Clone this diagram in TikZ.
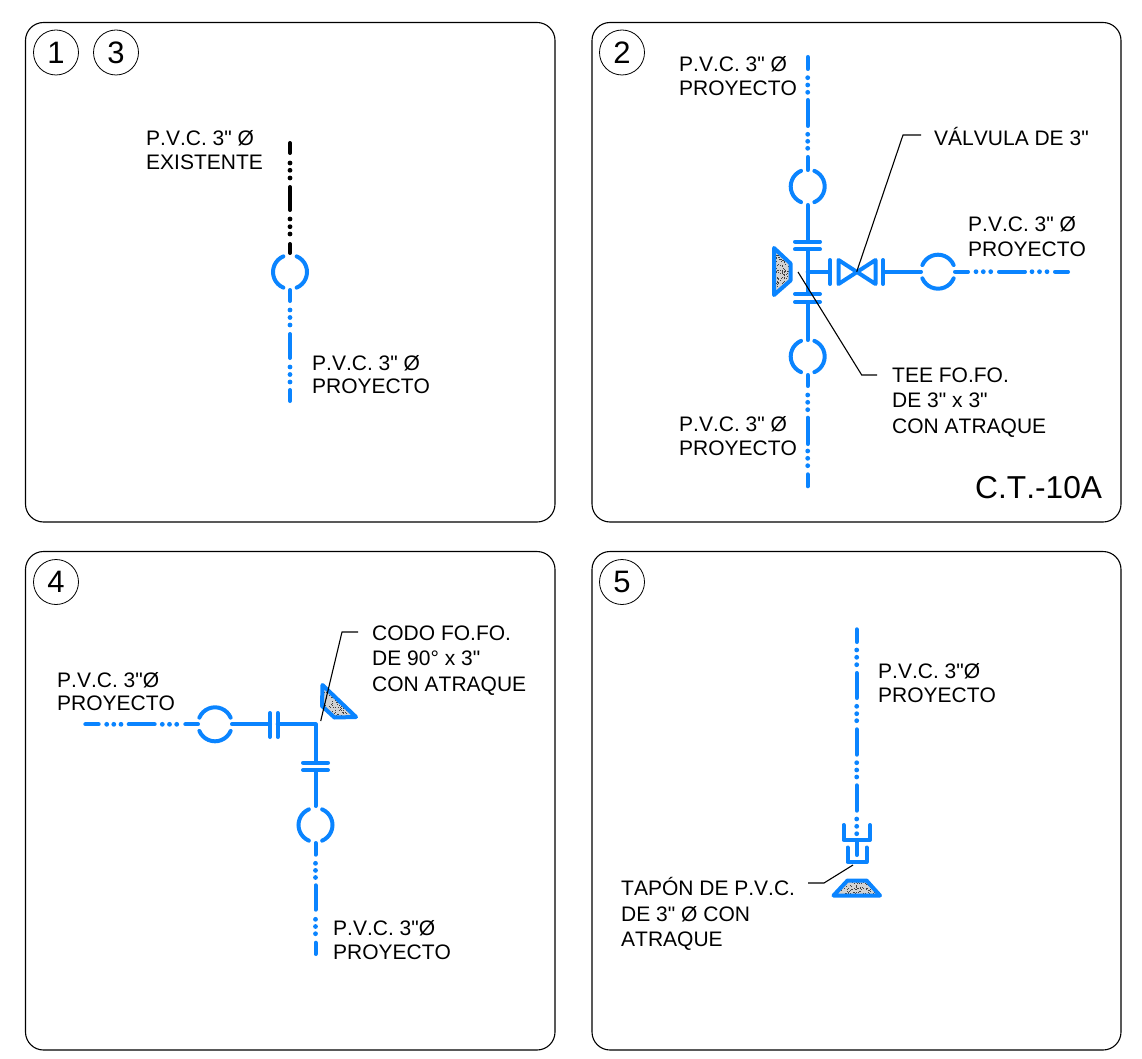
\documentclass[tikz,border=0pt]{standalone}
\usepackage{fontspec}
\setmainfont{Liberation Sans}[Ligatures=TeXOff,Kerning=Off]
\definecolor{pipeblue}{HTML}{0A84FF}
\newcommand{\vpipe}[4][pipeblue]{%
  \foreach \sa/\sb in {#3} {\draw[pipe,draw=#1] (#2,\sa) -- (#2,\sb);}
  \foreach \dy in {#4} {\fill[#1] (#2,\dy) circle[radius=2.4];}}
\newcommand{\hpipe}[3]{%
  \foreach \sa/\sb in {#2} {\draw[pipe] (\sa,#1) -- (\sb,#1);}
  \foreach \dx in {#3} {\fill[pipeblue] (\dx,#1) circle[radius=2.4];}}
\newcommand{\jointV}[2]{%
  \draw[pipe] (#1,#2) ++(-67:17) arc[start angle=-67,end angle=67,radius=17];
  \draw[pipe] (#1,#2) ++(113:17) arc[start angle=113,end angle=247,radius=17];}
\newcommand{\jointH}[2]{%
  \draw[pipe] (#1,#2) ++(23:17) arc[start angle=23,end angle=157,radius=17];
  \draw[pipe] (#1,#2) ++(203:17) arc[start angle=203,end angle=337,radius=17];}
\newcommand{\thrust}[6]{% polygon, seed, bbox x, y, w, h
  \begin{scope}
    \clip #1;
    \fill[gray!35] (#3,#4) rectangle ++(#5,#6);
    \pgfmathsetseed{#2}
    \foreach \n in {1,...,260} {
      \pgfmathsetmacro{\px}{#3+rnd*#5}
      \pgfmathsetmacro{\py}{#4+rnd*#6}
      \fill[black!75] (\px,\py) rectangle ++(1,1);
    }
  \end{scope}
  \draw[pipe,line join=round] #1;}
\begin{document}
\begin{tikzpicture}[x=1pt,y=-1pt,
  pipe/.style={line width=4,draw=pipeblue,line cap=round},
  panel/.style={line width=1.1,draw=black,rounded corners=18},
  numcircle/.style={circle,draw=black,line width=0.8,minimum size=45,inner sep=0,font=\fontsize{31}{31}\selectfont},
  lbl/.style={anchor=base west,inner sep=0,align=left,font=\fontsize{21}{24.5}\selectfont},
  big/.style={anchor=base west,inner sep=0,font=\fontsize{31.7}{34}\selectfont},
  leader/.style={line width=1.1,draw=black}]
\useasboundingbox (0,0) rectangle (1142,1059);
% panels
\draw[panel] (25.5,22.5) rectangle (555,522);
\draw[panel] (592,22.5) rectangle (1121,522);
\draw[panel] (25.5,551.5) rectangle (555,1050);
\draw[panel] (592,551.5) rectangle (1121,1050);
\node[numcircle] (n1) at (56,52.5) {1};
\node[numcircle] (n3) at (116,52.5) {3};
\node[numcircle] (n2) at (622,52.5) {2};
\node[numcircle] (n4) at (56,582) {4};
\node[numcircle] (n5) at (622,582) {5};

% panel 1 / 3
\vpipe[black]{290}{143/153,187/210,244/253}{163,170.3,178,219,226.7,234}
\jointV{290}{272}
\vpipe{290}{290/301,334/358,390/401}{310,317.5,325,367,374.5,382}
\node[lbl] (t1a) at (146,146) {P.V.C. 3" Ø};
\node[lbl] (t1b) at (146,170) {EXISTENTE};
\node[lbl] (t1c) at (312,370) {P.V.C. 3" Ø};
\node[lbl] (t1d) at (312,393) {PROYECTO};

% panel 2
\vpipe{807.7}{57/69,100/126,157/170}{77.7,85,92.3,134.3,141.3,148.3}
\jointV{807.7}{186.5}
\draw[pipe] (807.7,205) -- (807.7,241.7);
\draw[pipe] (795,241.7) -- (820,241.7);
\draw[pipe] (795,249.3) -- (820,249.3);
\draw[pipe] (807.7,249.3) -- (807.7,294);
\draw[pipe] (795,294) -- (820,294);
\draw[pipe] (795,302) -- (820,302);
\draw[pipe] (807.7,302) -- (807.7,340);
\jointV{807.7}{356.5}
\vpipe{807.7}{375/386,417.7/444,474.3/486.3}{395,402.3,409.7,451,458.3,465.7}
\thrust{(774,248) -- (774,295) -- (790.5,280.5) -- (790.5,263.5) -- cycle}{11}{770}{244}{24}{55}
\draw[pipe] (807.7,271.7) -- (830,271.7);
\draw[pipe] (830,260) -- (830,284);
\draw[pipe,line join=round] (838.5,260) -- (838.5,284) -- (875.5,260) -- (875.5,284) -- cycle;
\draw[pipe] (883,260) -- (883,284);
\draw[pipe] (883,271.7) -- (921,271.7);
\jointH{938}{271.7}
\hpipe{271.7}{955/968,999/1025,1055/1068}{976,983.3,990.7,1032,1039.5,1047}
\coordinate (vtip) at (856.7,271.7);
\coordinate (vknee) at (903,135);
\coordinate (vend) at (921,135);
\draw[leader] (vtip) -- (vknee) -- (vend);
\coordinate (ttip) at (798,272);
\coordinate (tknee) at (861.7,375);
\coordinate (tend) at (877,375);
\draw[leader] (ttip) -- (tknee) -- (tend);
\node[lbl] (t2a) at (679,72) {P.V.C. 3" Ø};
\node[lbl] (t2b) at (679,96) {PROYECTO};
\node[lbl] (t2c) at (934,146) {VÁLVULA DE 3"};
\node[lbl] (t2d) at (968,232) {P.V.C. 3" Ø};
\node[lbl] (t2e) at (968,256) {PROYECTO};
\node[lbl] (t2f) at (892,382) {TEE FO.FO.};
\node[lbl] (t2g) at (892,407) {DE 3" x 3"};
\node[lbl] (t2h) at (892,433) {CON ATRAQUE};
\node[lbl] (t2i) at (679,431) {P.V.C. 3" Ø};
\node[lbl] (t2j) at (679,455) {PROYECTO};
\node[big] (t2k) at (975,498) {C.T.-10A};

% panel 4
\hpipe{724.3}{85.3/98.7,128.7/154.7,185.3/198}{106.7,113.8,121,162.3,169.5,176.7}
\jointH{215}{724.3}
\draw[pipe] (232,724.3) -- (270,724.3);
\draw[pipe] (270,713) -- (270,737);
\draw[pipe] (277.7,713) -- (277.7,737);
\draw[pipe,line join=round] (277.7,724.3) -- (315.5,724.3) -- (315.5,762.7);
\draw[pipe] (303,762.7) -- (328,762.7);
\draw[pipe] (303,770) -- (328,770);
\draw[pipe] (315.5,770) -- (315.5,806);
\jointV{315.5}{825}
\vpipe{315.5}{843/854.7,885.3/909.7,942.7/954}{863.3,870.4,877.5,919.3,926.5,933.7}
\thrust{(322.5,685) -- (322,706) -- (334.5,717.5) -- (356,717) -- cycle}{23}{318}{680}{40}{40}
\coordinate (ctip) at (320.7,721);
\coordinate (cknee) at (342,632);
\coordinate (cend) at (358,632);
\draw[leader] (ctip) -- (cknee) -- (cend);
\node[lbl] (t4a) at (57,687) {P.V.C. 3"Ø};
\node[lbl] (t4b) at (57,710) {PROYECTO};
\node[lbl] (t4c) at (372,640) {CODO FO.FO.};
\node[lbl] (t4d) at (372,665) {DE 90° x 3"};
\node[lbl] (t4e) at (372,691) {CON ATRAQUE};
\node[lbl] (t4f) at (333,935) {P.V.C. 3"Ø};
\node[lbl] (t4g) at (333,959) {PROYECTO};

% panel 5
\vpipe{856.7}{629.3/642,673/698,729.3/754.7,785.3/810.7}{650,657.3,664.7,706.3,713.7,720.7,762.7,770,777,819,826.3,833.7}
\draw[pipe,line join=round] (843.5,825) -- (843.5,840) -- (870,840) -- (870,825);
\draw[pipe] (856.7,840) -- (856.7,855);
\draw[pipe,line join=round] (847.5,847.5) -- (847.5,862) -- (866.5,862) -- (866.5,847.5);
\thrust{(847.5,880.5) -- (866.5,880.5) -- (880,895.5) -- (833.5,895.5) -- cycle}{37}{830}{876}{54}{24}
\coordinate (ptip) at (853,865);
\coordinate (pknee) at (824,883);
\coordinate (pend) at (808,883);
\draw[leader] (ptip) -- (pknee) -- (pend);
\node[lbl] (t5a) at (878,678) {P.V.C. 3"Ø};
\node[lbl] (t5b) at (878,702) {PROYECTO};
\node[lbl] (t5c) at (621,895) {TAPÓN DE P.V.C.};
\node[lbl] (t5d) at (621,921) {DE 3" Ø CON};
\node[lbl] (t5e) at (621,946) {ATRAQUE};
\end{tikzpicture}
\end{document}
